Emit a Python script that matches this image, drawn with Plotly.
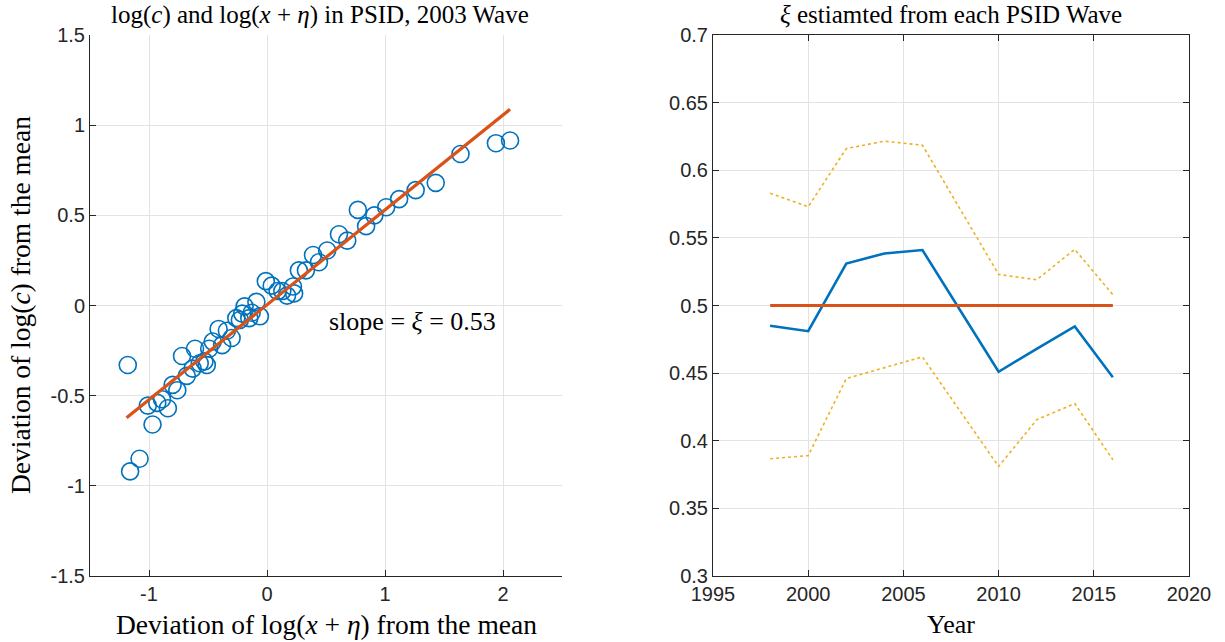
import plotly.graph_objects as go

# ---------------- data ----------------
# left panel: scatter of deviations (2003 wave)
dev_log_x_eta = [-1.18, -1.16, -1.08, -1.01, -0.97, -0.93, -0.89, -0.84, -0.80, -0.76,
                 -0.72, -0.68, -0.63, -0.61, -0.57, -0.53, -0.51, -0.49, -0.46, -0.41,
                 -0.38, -0.34, -0.30, -0.26, -0.23, -0.21, -0.19, -0.15, -0.13, -0.09,
                 -0.06, -0.01, 0.04, 0.09, 0.13, 0.17, 0.22, 0.23, 0.27, 0.33,
                 0.39, 0.44, 0.51, 0.61, 0.68, 0.77, 0.84, 0.91, 1.01, 1.12,
                 1.26, 1.43, 1.64, 1.94, 2.06]
dev_log_c = [-0.33, -0.92, -0.85, -0.555, -0.66, -0.54, -0.52, -0.57, -0.44, -0.47,
             -0.28, -0.39, -0.35, -0.24, -0.32, -0.31, -0.33, -0.24, -0.20, -0.13,
             -0.22, -0.14, -0.18, -0.07, -0.08, -0.045, -0.005, -0.07, -0.04, 0.02,
             -0.06, 0.135, 0.11, 0.08, 0.08, 0.055, 0.105, 0.067, 0.195, 0.195,
             0.28, 0.24, 0.305, 0.395, 0.36, 0.53, 0.44, 0.50, 0.545, 0.59,
             0.64, 0.68, 0.84, 0.90, 0.915]
fit_x = [-1.19, 2.06]
fit_y = [-0.622, 1.088]
slope_label = "slope = <i>ξ</i> = 0.53"

# right panel: xi estimated from each wave
years = [1998, 2000, 2002, 2004, 2006, 2010, 2012, 2014, 2016]
xi_est = [0.485, 0.481, 0.531, 0.5385, 0.541, 0.451, 0.468, 0.4845, 0.447]
xi_upper = [0.583, 0.573, 0.616, 0.6215, 0.6185, 0.523, 0.519, 0.5415, 0.508]
xi_lower = [0.3867, 0.389, 0.446, 0.454, 0.462, 0.381, 0.4155, 0.4275, 0.386]
xi_ref = [0.5, 0.5, 0.5, 0.5, 0.5, 0.5, 0.5, 0.5, 0.5]

left_xticks = [-1, 0, 1, 2]
left_xticktext = ["-1", "0", "1", "2"]
left_yticks = [-1.5, -1, -0.5, 0, 0.5, 1, 1.5]
left_yticktext = ["-1.5", "-1", "-0.5", "0", "0.5", "1", "1.5"]
right_xticks = [1995, 2000, 2005, 2010, 2015, 2020]
right_yticks = [0.3, 0.35, 0.4, 0.45, 0.5, 0.55, 0.6, 0.65, 0.7]
right_yticktext = ["0.3", "0.35", "0.4", "0.45", "0.5", "0.55", "0.6", "0.65", "0.7"]

# ---------------- style ----------------
BLUE = "#0072BD"
RED = "#D95319"
YELLOW = "#EDB120"
GRID = "#E3E3E3"
SERIF = "Liberation Serif"
SANS = "Liberation Sans"

W, H = 1225, 642
L, R, T, B = 90, 1189, 35, 576   # plot-area pixel bounds
PW, PH = R - L, B - T

def px_x(p):
    return (p - L) / PW

def px_y(p):
    return (B - p) / PH

fig = go.Figure()

fig.add_trace(go.Scatter(x=dev_log_x_eta, y=dev_log_c, mode="markers",
                         marker=dict(symbol="circle-open", size=17, color=BLUE,
                                     line=dict(width=1.6, color=BLUE)),
                         xaxis="x", yaxis="y", showlegend=False))
fig.add_trace(go.Scatter(x=fit_x, y=fit_y, mode="lines",
                         line=dict(color=RED, width=3.2),
                         xaxis="x", yaxis="y", showlegend=False))

fig.add_trace(go.Scatter(x=years, y=xi_upper, mode="lines",
                         line=dict(color=YELLOW, width=1.6, dash="dot"),
                         xaxis="x2", yaxis="y2", showlegend=False))
fig.add_trace(go.Scatter(x=years, y=xi_lower, mode="lines",
                         line=dict(color=YELLOW, width=1.6, dash="dot"),
                         xaxis="x2", yaxis="y2", showlegend=False))
fig.add_trace(go.Scatter(x=years, y=xi_est, mode="lines",
                         line=dict(color=BLUE, width=2.6),
                         xaxis="x2", yaxis="y2", showlegend=False))
fig.add_trace(go.Scatter(x=years, y=xi_ref, mode="lines",
                         line=dict(color=RED, width=2.8),
                         xaxis="x2", yaxis="y2", showlegend=False))

axis_common = dict(showgrid=True, gridcolor=GRID, gridwidth=1, zeroline=False,
                   showline=True, linecolor="#262626", linewidth=1,
                   ticks="inside", ticklen=6, tickcolor="#262626", tickwidth=1,
                   automargin=False,
                   tickfont=dict(family=SANS, size=20, color="#262626"))

fig.update_layout(
    width=W, height=H,
    margin=dict(l=L, r=W - R, t=T, b=H - B, autoexpand=False),
    paper_bgcolor="white", plot_bgcolor="white",
    xaxis=dict(domain=[0, px_x(562)], range=[-1.5, 2.5],
               tickvals=left_xticks, ticktext=left_xticktext, anchor="y",
               **axis_common),
    yaxis=dict(domain=[0, 1], range=[-1.5, 1.5],
               tickvals=left_yticks, ticktext=left_yticktext, anchor="x",
               **axis_common),
    xaxis2=dict(domain=[px_x(713), 1], range=[1995, 2020],
                tickvals=right_xticks, anchor="y2", mirror="ticks",
                **axis_common),
    yaxis2=dict(domain=[0, 1], range=[0.3, 0.7],
                tickvals=right_yticks, ticktext=right_yticktext, anchor="x2",
                mirror="ticks", **axis_common),
)

title_font = dict(family=SERIF, size=25, color="black")
label_font = dict(family=SERIF, size=27.5, color="black")
year_font = dict(family=SERIF, size=26, color="black")
annotations = [
    dict(text="log(<i>c</i>) and log(<i>x</i> + <i>η</i>) in PSID, 2003 Wave",
         x=px_x(320), y=px_y(15), font=title_font),
    dict(text="<i>ξ</i> estiamted from each PSID Wave",
         x=px_x(951), y=px_y(15), font=title_font),
    dict(text="Deviation of log(<i>x</i> + <i>η</i>) from the mean",
         x=px_x(326), y=px_y(624), font=label_font),
    dict(text="Year", x=px_x(951), y=px_y(624), font=year_font),
    dict(text="Deviation of log(<i>c</i>) from the mean",
         x=px_x(20), y=px_y(305), textangle=-90, font=label_font),
]
for a in annotations:
    fig.add_annotation(xref="paper", yref="paper", showarrow=False,
                       xanchor="center", yanchor="middle", **a)

fig.add_annotation(xref="x", yref="y", x=1.23, y=-0.09, text=slope_label,
                   showarrow=False, xanchor="center", yanchor="middle",
                   font=dict(family=SERIF, size=26, color="black"))

fig.write_html("out.html",
               config={"displayModeBar": False},
               post_script="document.body.style.margin='0';"
                           "document.body.style.overflow='hidden';")
